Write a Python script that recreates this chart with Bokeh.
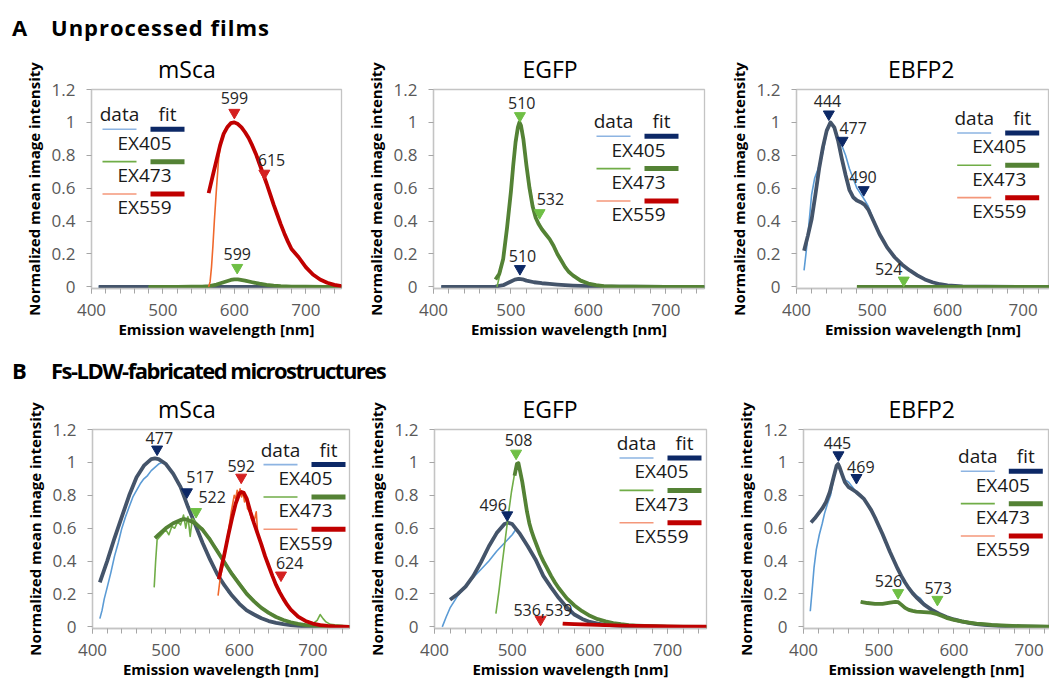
from bokeh.plotting import figure
from bokeh.models import Range1d, FixedTicker, NumeralTickFormatter, Div
from bokeh.layouts import row, column
from bokeh.embed import file_html
from bokeh.resources import INLINE
from bokeh.core.properties import value

FONT = "Open Sans"

# ---------------- ticks / labels ----------------
Y_TICKS = [0, 0.2, 0.4, 0.6, 0.8, 1.0, 1.2]
X_TICKS = [400, 500, 600, 700]
X_MINOR = [400, 420, 440, 460, 480, 500, 520, 540, 560, 580, 600, 620, 640, 660, 680, 700, 720, 740]
SERIES = ["EX405", "EX473", "EX559"]
TITLES = ["mSca", "EGFP", "EBFP2"]
HEAD_A = "Unprocessed films"
HEAD_B = "Fs-LDW-fabricated microstructures"
X_LABEL = "Emission wavelength [nm]"
Y_LABEL = "Normalized mean image intensity"

DATA_COLOR = {"EX405": "#5b9bd5", "EX473": "#70ad47", "EX559": "#f0682c"}
FIT_COLOR = {"EX405": "#44546a", "EX473": "#548235", "EX559": "#c00000"}
SWATCH_DATA = {"EX405": "#8db4e2", "EX473": "#70ad47", "EX559": "#f4977a"}
SWATCH_FIT = {"EX405": "#0c2866", "EX473": "#548235", "EX559": "#c00000"}
MARK_COLOR = {"EX405": "#0c2866", "EX473": "#6fbf45", "EX559": "#d42020"}

# ================= A1: mSca (unprocessed films) =================
a1_x405 = [410, 450, 500, 550, 600, 650, 700, 750]
a1_fit405 = [0, 0, 0, 0, 0, 0, 0, 0]
a1_dat405 = [0, 0, 0, 0, 0, 0, 0, 0]
a1_x473 = [480, 500, 520, 540, 555, 565, 575, 585, 595, 600, 605, 615, 625, 635, 645, 655, 665, 680, 700, 725, 750]
a1_fit473 = [0, 0, 0, 0.001, 0.002, 0.005, 0.014, 0.028, 0.042, 0.046, 0.045, 0.038, 0.028, 0.019, 0.012, 0.008, 0.005, 0.002, 0.001, 0, 0]
a1_dat473 = [0, 0, 0, 0.001, 0.002, 0.006, 0.015, 0.029, 0.043, 0.046, 0.044, 0.037, 0.027, 0.019, 0.012, 0.008, 0.005, 0.002, 0.001, 0, 0]
a1_xfit559 = [564, 570, 575, 580, 585, 590, 595, 600, 605, 610, 615, 620, 625, 630, 635, 640, 645, 650, 655, 660, 665, 670, 675, 680, 690, 700, 710, 720, 730, 740, 750]
a1_fit559 = [0.57, 0.68, 0.77, 0.86, 0.93, 0.97, 0.995, 1.0, 0.99, 0.97, 0.94, 0.905, 0.86, 0.81, 0.75, 0.69, 0.63, 0.565, 0.50, 0.44, 0.38, 0.325, 0.275, 0.23, 0.18, 0.12, 0.075, 0.045, 0.025, 0.012, 0.005]
a1_xdat559 = [564, 566, 568, 570, 572, 575, 578, 582, 586, 590, 595, 600, 610, 620, 630, 640, 650, 660, 670, 680, 690, 700, 710, 720, 730, 740, 750]
a1_dat559 = [0.0, 0.03, 0.12, 0.25, 0.40, 0.60, 0.78, 0.90, 0.95, 0.975, 0.99, 1.0, 0.97, 0.905, 0.81, 0.69, 0.565, 0.44, 0.325, 0.23, 0.18, 0.12, 0.075, 0.045, 0.025, 0.012, 0.005]
a1_peak_series = ["EX559", "EX559", "EX473"]
a1_peak_x = [600, 642, 604]
a1_peak_y = [1.06, 0.69, 0.117]
a1_peak_text = ["599", "615", "599"]
a1_lab_x = [600, 652, 604]
a1_lab_y = [1.148, 0.77, 0.20]

# ================= A2: EGFP (unprocessed films) =================
a2_x405 = [410, 440, 470, 480, 490, 500, 505, 510, 515, 520, 530, 540, 550, 560, 570, 580, 590, 600, 620, 650, 700, 750]
a2_fit405 = [0, 0, 0, 0.002, 0.01, 0.033, 0.044, 0.049, 0.046, 0.038, 0.028, 0.022, 0.018, 0.014, 0.011, 0.008, 0.006, 0.004, 0.002, 0.001, 0, 0]
a2_dat405 = [0, 0, 0, 0.002, 0.01, 0.033, 0.044, 0.049, 0.046, 0.038, 0.028, 0.022, 0.018, 0.014, 0.011, 0.008, 0.006, 0.004, 0.002, 0.001, 0, 0]
a2_xfit473 = [480, 485, 490, 495, 500, 503, 506, 509, 511, 513, 516, 520, 524, 528, 532, 536, 540, 545, 550, 555, 560, 565, 570, 575, 580, 590, 600, 610, 620, 640, 660, 700, 750]
a2_fit473 = [0.045, 0.08, 0.17, 0.36, 0.58, 0.74, 0.88, 0.97, 1.0, 0.98, 0.9, 0.74, 0.6, 0.49, 0.42, 0.38, 0.35, 0.32, 0.29, 0.25, 0.2, 0.16, 0.12, 0.09, 0.07, 0.038, 0.02, 0.01, 0.005, 0.002, 0.001, 0, 0]
a2_xdat473 = [482, 486, 490, 495, 500, 505, 510, 515, 520, 530, 540, 550, 560, 570, 580, 600, 620, 650, 700, 750]
a2_dat473 = [0.0, 0.08, 0.17, 0.36, 0.58, 0.82, 0.99, 0.95, 0.74, 0.45, 0.35, 0.29, 0.2, 0.12, 0.07, 0.02, 0.005, 0.001, 0, 0]
a2_peak_series = ["EX473", "EX473", "EX405"]
a2_peak_x = [511.6, 537, 511.6]
a2_peak_y = [1.04, 0.45, 0.11]
a2_peak_text = ["510", "532", "510"]
a2_lab_x = [514, 551, 515]
a2_lab_y = [1.12, 0.537, 0.187]

# ================= A3: EBFP2 (unprocessed films) =================
a3_xfit405 = [410, 415, 420, 425, 430, 435, 440, 445, 450, 455, 460, 465, 470, 475, 480, 485, 490, 495, 500, 505, 510, 515, 520, 530, 540, 550, 560, 570, 580, 590, 600, 620, 650, 700, 735]
a3_fit405 = [0.22, 0.31, 0.41, 0.56, 0.72, 0.85, 0.95, 1.0, 0.97, 0.89, 0.78, 0.68, 0.59, 0.545, 0.525, 0.515, 0.5, 0.47, 0.42, 0.37, 0.32, 0.28, 0.24, 0.18, 0.135, 0.1, 0.07, 0.045, 0.028, 0.016, 0.009, 0.003, 0.001, 0, 0]
a3_xdat405 = [410, 413, 416, 420, 424, 428, 432, 436, 440, 445, 450, 455, 460, 465, 470, 475, 480, 485, 490, 495, 500, 510, 520, 530, 540, 550, 560, 570, 580, 600, 650, 735]
a3_dat405 = [0.1, 0.22, 0.36, 0.56, 0.66, 0.71, 0.76, 0.84, 0.94, 1.0, 0.97, 0.9, 0.86, 0.8, 0.72, 0.66, 0.6, 0.565, 0.53, 0.49, 0.43, 0.32, 0.24, 0.18, 0.135, 0.1, 0.07, 0.045, 0.028, 0.009, 0.001, 0]
a3_x473 = [480, 550, 600, 650, 700, 735]
a3_fit473 = [0, 0, 0, 0, 0, 0]
a3_dat473 = [0, 0, 0, 0, 0, 0]
a3_peak_series = ["EX405", "EX405", "EX405", "EX473"]
a3_peak_x = [442.8, 461, 489, 542]
a3_peak_y = [1.05, 0.89, 0.59, 0.04]
a3_peak_text = ["444", "477", "490", "524"]
a3_lab_x = [441, 475, 488, 522]
a3_lab_y = [1.128, 0.966, 0.67, 0.109]

# ================= B1: mSca (microstructures) =================
b1_xfit405 = [410, 420, 430, 440, 450, 460, 470, 480, 485, 490, 500, 510, 520, 530, 540, 550, 560, 570, 580, 590, 600, 610, 620, 630, 640, 650, 660, 670, 680, 690, 700, 720, 750]
b1_fit405 = [0.27, 0.40, 0.54, 0.67, 0.80, 0.91, 0.98, 1.02, 1.025, 1.02, 0.99, 0.93, 0.85, 0.73, 0.62, 0.51, 0.41, 0.32, 0.25, 0.19, 0.14, 0.10, 0.075, 0.052, 0.035, 0.024, 0.016, 0.01, 0.006, 0.003, 0.002, 0, 0]
b1_xdat405 = [410, 413, 416, 420, 425, 430, 435, 440, 445, 450, 455, 460, 465, 470, 475, 480, 485, 490, 495, 500, 505, 510, 515, 520, 525, 530, 535, 540, 545, 550, 555, 560, 565, 570, 575, 580, 585, 590, 600, 610, 620, 630, 640, 650, 660, 670, 680, 700, 720]
b1_dat405 = [0.05, 0.10, 0.17, 0.24, 0.33, 0.43, 0.51, 0.60, 0.67, 0.73, 0.79, 0.83, 0.87, 0.90, 0.92, 0.95, 0.97, 0.99, 1.0, 0.99, 0.96, 0.935, 0.89, 0.86, 0.79, 0.74, 0.67, 0.63, 0.56, 0.52, 0.46, 0.42, 0.36, 0.33, 0.28, 0.26, 0.21, 0.19, 0.14, 0.105, 0.07, 0.055, 0.033, 0.025, 0.014, 0.011, 0.005, 0.002, 0]
b1_xfit473 = [485, 490, 500, 510, 520, 525, 530, 540, 550, 560, 570, 580, 590, 600, 610, 620, 630, 640, 650, 660, 670, 680, 690, 700, 720, 750]
b1_fit473 = [0.54, 0.56, 0.60, 0.63, 0.65, 0.655, 0.65, 0.63, 0.59, 0.53, 0.46, 0.39, 0.32, 0.26, 0.20, 0.155, 0.115, 0.085, 0.06, 0.042, 0.028, 0.018, 0.011, 0.007, 0.003, 0]
b1_xdat473 = [484, 486, 488, 492, 496, 500, 504, 508, 512, 516, 520, 524, 527, 530, 533, 536, 540, 545, 550, 555, 560, 565, 570, 575, 580, 585, 590, 595, 600, 610, 620, 630, 640, 650, 660, 670, 680, 690, 700, 706, 710, 714, 718, 724, 730, 740, 750]
b1_dat473 = [0.24, 0.40, 0.53, 0.55, 0.57, 0.59, 0.56, 0.61, 0.60, 0.64, 0.62, 0.68, 0.60, 0.67, 0.55, 0.66, 0.64, 0.61, 0.60, 0.56, 0.54, 0.50, 0.47, 0.43, 0.40, 0.36, 0.33, 0.30, 0.27, 0.21, 0.16, 0.12, 0.09, 0.065, 0.045, 0.03, 0.02, 0.015, 0.02, 0.04, 0.075, 0.05, 0.03, 0.015, 0.012, 0.008, 0]
b1_xfit559 = [572, 576, 580, 585, 590, 595, 600, 603, 606, 610, 615, 620, 625, 630, 635, 640, 645, 650, 655, 660, 665, 670, 680, 690, 700, 710, 720, 730, 750]
b1_fit559 = [0.29, 0.37, 0.45, 0.56, 0.66, 0.75, 0.81, 0.82, 0.815, 0.78, 0.70, 0.63, 0.565, 0.50, 0.43, 0.37, 0.31, 0.255, 0.21, 0.17, 0.135, 0.105, 0.062, 0.036, 0.02, 0.011, 0.006, 0.003, 0]
b1_xdat559 = [571, 574, 577, 580, 583, 586, 589, 591, 593, 595, 597, 599, 601, 603, 605, 607, 609, 611, 614, 617, 620, 623, 625, 628, 631, 634, 637, 640, 643, 646, 649, 652, 655, 658, 661, 664, 667, 670, 675, 680, 690, 700, 710, 720, 730, 740, 750]
b1_dat559 = [0.19, 0.30, 0.36, 0.43, 0.52, 0.61, 0.70, 0.75, 0.80, 0.78, 0.83, 0.80, 0.84, 0.79, 0.82, 0.76, 0.79, 0.72, 0.70, 0.65, 0.64, 0.70, 0.57, 0.52, 0.49, 0.44, 0.41, 0.37, 0.33, 0.30, 0.26, 0.24, 0.22, 0.18, 0.16, 0.14, 0.12, 0.10, 0.085, 0.06, 0.04, 0.02, 0.015, 0.008, 0.005, 0.005, 0]
b1_peak_series = ["EX405", "EX405", "EX473", "EX559", "EX559"]
b1_peak_x = [488, 528.6, 541, 602.5, 656.7]
b1_peak_y = [1.08, 0.82, 0.70, 0.909, 0.314]
b1_peak_text = ["477", "517", "522", "592", "624"]
b1_lab_x = [491, 546.5, 563, 602.5, 668.5]
b1_lab_y = [1.146, 0.91, 0.787, 0.98, 0.39]

# ================= B2: EGFP (microstructures) =================
b2_xfit405 = [420, 430, 440, 450, 460, 470, 480, 490, 495, 500, 510, 520, 530, 540, 550, 560, 570, 580, 590, 600, 610, 620, 640, 660, 680, 700, 750]
b2_fit405 = [0.165, 0.20, 0.245, 0.31, 0.395, 0.49, 0.57, 0.625, 0.633, 0.625, 0.565, 0.49, 0.41, 0.31, 0.24, 0.175, 0.12, 0.075, 0.048, 0.03, 0.02, 0.012, 0.006, 0.002, 0.001, 0, 0]
b2_xdat405 = [410, 415, 420, 430, 440, 450, 460, 470, 480, 490, 500, 505, 510, 520, 530, 540, 550, 560, 570, 580, 600, 620, 650, 700]
b2_dat405 = [0.0, 0.06, 0.115, 0.19, 0.245, 0.30, 0.35, 0.40, 0.46, 0.51, 0.56, 0.595, 0.565, 0.49, 0.41, 0.31, 0.24, 0.175, 0.12, 0.075, 0.03, 0.012, 0.004, 0]
b2_xfit473 = [503, 506, 508, 510, 513, 516, 519, 522, 525, 528, 532, 536, 540, 545, 550, 555, 560, 565, 570, 580, 590, 600, 610, 620, 630, 640, 650, 660, 680, 700, 750]
b2_fit473 = [0.92, 0.99, 0.995, 0.95, 0.88, 0.79, 0.70, 0.63, 0.58, 0.54, 0.49, 0.44, 0.40, 0.355, 0.31, 0.27, 0.235, 0.205, 0.175, 0.13, 0.095, 0.067, 0.047, 0.033, 0.023, 0.016, 0.011, 0.008, 0.004, 0.002, 0]
b2_xdat473 = [479, 483, 487, 491, 495, 499, 503, 506, 508, 510, 513, 516, 520, 525, 530, 540, 550, 560, 570, 580, 600, 620, 650, 700, 750]
b2_dat473 = [0.08, 0.22, 0.38, 0.53, 0.68, 0.82, 0.93, 0.99, 1.0, 0.96, 0.88, 0.79, 0.68, 0.58, 0.51, 0.40, 0.31, 0.235, 0.175, 0.13, 0.067, 0.033, 0.011, 0.002, 0]
b2_x559 = [565, 580, 600, 620, 640, 660, 680, 700, 720, 750]
b2_fit559 = [0.02, 0.017, 0.013, 0.01, 0.008, 0.006, 0.004, 0.003, 0.002, 0.001]
b2_dat559 = [0.015, 0.016, 0.012, 0.01, 0.008, 0.006, 0.004, 0.003, 0.002, 0.001]
b2_peak_series = ["EX473", "EX405", "EX559"]
b2_peak_x = [505, 493.6, 536.5]
b2_peak_y = [1.055, 0.68, 0.045]
b2_peak_text = ["508", "496", "536,539"]
b2_lab_x = [508.2, 475.5, 539.5]
b2_lab_y = [1.136, 0.74, 0.105]

# ================= B3: EBFP2 (microstructures) =================
b3_xfit405 = [410, 415, 420, 425, 430, 435, 440, 444, 446, 448, 451, 455, 460, 465, 470, 475, 480, 485, 490, 495, 500, 505, 510, 515, 520, 525, 530, 535, 540, 545, 550, 560, 570, 580, 590, 600, 610, 620, 630, 640, 650, 660, 680, 700, 727]
b3_fit405 = [0.635, 0.66, 0.69, 0.72, 0.76, 0.82, 0.91, 0.98, 0.99, 0.97, 0.93, 0.88, 0.85, 0.835, 0.82, 0.80, 0.78, 0.745, 0.71, 0.665, 0.615, 0.565, 0.51, 0.455, 0.405, 0.355, 0.31, 0.27, 0.235, 0.205, 0.18, 0.137, 0.105, 0.08, 0.06, 0.045, 0.033, 0.024, 0.017, 0.012, 0.009, 0.006, 0.003, 0.001, 0]
b3_xdat405 = [409, 412, 414, 417, 421, 425, 428, 432, 436, 440, 444, 446, 448, 451, 455, 460, 465, 470, 480, 490, 500, 510, 520, 530, 540, 550, 555, 560, 565, 570, 580, 600, 620, 650, 700, 727]
b3_dat405 = [0.095, 0.25, 0.36, 0.47, 0.56, 0.63, 0.69, 0.75, 0.80, 0.90, 0.98, 0.995, 0.97, 0.93, 0.895, 0.88, 0.85, 0.82, 0.78, 0.71, 0.615, 0.51, 0.405, 0.31, 0.235, 0.19, 0.175, 0.145, 0.125, 0.11, 0.08, 0.045, 0.024, 0.009, 0.001, 0]
b3_x473 = [476, 485, 495, 505, 515, 522, 526, 530, 535, 540, 545, 550, 560, 570, 578, 585, 590, 600, 610, 620, 630, 640, 650, 670, 690, 727]
b3_fit473 = [0.152, 0.145, 0.14, 0.14, 0.148, 0.152, 0.15, 0.135, 0.115, 0.103, 0.097, 0.093, 0.09, 0.086, 0.077, 0.065, 0.055, 0.042, 0.033, 0.026, 0.02, 0.016, 0.012, 0.007, 0.004, 0.001]
b3_dat473 = [0.15, 0.144, 0.14, 0.141, 0.149, 0.153, 0.149, 0.133, 0.114, 0.102, 0.097, 0.094, 0.091, 0.087, 0.076, 0.064, 0.055, 0.042, 0.033, 0.026, 0.02, 0.016, 0.012, 0.007, 0.004, 0.001]
b3_peak_series = ["EX405", "EX405", "EX473", "EX473"]
b3_peak_x = [446.5, 470.4, 525.8, 578]
b3_peak_y = [1.045, 0.907, 0.207, 0.166]
b3_peak_text = ["445", "469", "526", "573"]
b3_lab_x = [445.2, 476.2, 513, 579]
b3_lab_y = [1.12, 0.97, 0.276, 0.235]


def style_axes(p):
    xa = p.xaxis[0]
    ya = p.yaxis[0]
    xa.ticker = FixedTicker(ticks=X_TICKS, minor_ticks=X_MINOR)
    ya.ticker = FixedTicker(ticks=Y_TICKS, minor_ticks=[])
    ya.formatter = NumeralTickFormatter(format="0.[0]")
    xa.axis_label = X_LABEL
    ya.axis_label = Y_LABEL
    for ax in (xa, ya):
        ax.axis_line_color = "#c4c4c4"
        ax.axis_line_width = 1.3
        ax.major_tick_line_color = "#a6a6a6"
        ax.minor_tick_line_color = "#a6a6a6"
        ax.major_tick_in = 0
        ax.major_tick_out = 5
        ax.minor_tick_in = 0
        ax.major_label_text_font = FONT
        ax.major_label_text_font_size = "17px"
        ax.major_label_text_color = "#595959"
        ax.axis_label_text_font = FONT
        ax.axis_label_text_font_style = "bold"
        ax.axis_label_text_font_size = "15px"
        ax.axis_label_text_color = "#000000"
    xa.minor_tick_out = 5
    ya.minor_tick_out = 0
    xa.major_label_standoff = 10
    xa.axis_label_standoff = 0
    ya.major_label_standoff = 11
    ya.axis_label_standoff = 5


def make_panel(title, title_off, xend, geom, curves, peaks, leg):
    w, h, bl, br, bt, bb = geom
    fw = w - bl - br
    fh = h - bt - bb
    y0 = -0.01
    ppx = fw / (xend - 400.0)
    ppy = fh / (1.2 - y0)

    def X(px):
        return 400 + px / ppx

    def Y(py):
        return 1.2 - py / ppy

    p = figure(width=w, height=h, x_range=Range1d(400, xend), y_range=Range1d(y0, 1.2),
               output_backend="svg", toolbar_location=None,
               min_border_left=bl, min_border_right=br, min_border_top=bt, min_border_bottom=bb,
               background_fill_color="white", border_fill_color="white")
    p.title.text = title
    p.title.align = "left"
    p.title.offset = title_off
    p.title.text_font = FONT
    p.title.text_font_size = "23px"
    p.title.text_font_style = "normal"
    p.title.text_color = "#000000"
    p.grid.visible = False
    p.outline_line_color = "#c4c4c4"
    p.outline_line_width = 1.3
    style_axes(p)

    # curves: data (thin) then fit (thick) per excitation
    for key, dx, dy, fx, fy in curves:
        if dx is not None:
            p.line(dx, dy, line_color=DATA_COLOR[key], line_width=1.6, line_join="round")
        if fx is not None:
            p.line(fx, fy, line_color=FIT_COLOR[key], line_width=3.8, line_join="round")

    # peak markers + labels
    ser, mx, my, txt, lx, ly = peaks
    p.scatter(mx, my, marker="inverted_triangle", size=11,
              fill_color=[MARK_COLOR[s] for s in ser], line_color=[MARK_COLOR[s] for s in ser])
    p.text(lx, ly, text=txt, text_align="center", text_baseline="middle",
           text_font=value(FONT), text_font_size=value("16px"), text_color="#262626")

    # legend (layout in pixels relative to the frame)
    lx0, ly0 = leg
    p.text([X(lx0 + 17), X(lx0 + 65)], [Y(ly0), Y(ly0)], text=["data", "fit"],
           text_align="center", text_baseline="middle",
           text_font=value(FONT), text_font_size=value("19px"), text_color="#1a1a1a")
    for i, key in enumerate(SERIES):
        yy = ly0 + 15 + 32.5 * i
        p.segment(x0=[X(lx0)], y0=[Y(yy)], x1=[X(lx0 + 34)], y1=[Y(yy)],
                  line_color=SWATCH_DATA[key], line_width=1.6)
        p.segment(x0=[X(lx0 + 48)], y0=[Y(yy)], x1=[X(lx0 + 82)], y1=[Y(yy)],
                  line_color=SWATCH_FIT[key], line_width=5)
        p.text([X(lx0 + 42)], [Y(yy + 13.5)], text=[key], text_align="center", text_baseline="middle",
               text_font=value(FONT), text_font_size=value("19px"), text_color="#1a1a1a")
    return p


# geometry: (width, height, border_left, border_right, border_top, border_bottom)
pA1 = make_panel(TITLES[0], 66.5, 750, (355, 299, 91, 14, 43, 56),
                 [("EX405", a1_x405, a1_dat405, a1_x405, a1_fit405),
                  ("EX473", a1_x473, a1_dat473, a1_x473, a1_fit473),
                  ("EX559", a1_xdat559, a1_dat559, a1_xfit559, a1_fit559)],
                 (a1_peak_series, a1_peak_x, a1_peak_y, a1_peak_text, a1_lab_x, a1_lab_y),
                 (11, 25))
pA2 = make_panel(TITLES[1], 89, 750, (355, 299, 78, 6, 43, 56),
                 [("EX405", a2_x405, a2_dat405, a2_x405, a2_fit405),
                  ("EX473", a2_xdat473, a2_dat473, a2_xfit473, a2_fit473)],
                 (a2_peak_series, a2_peak_x, a2_peak_y, a2_peak_text, a2_lab_x, a2_lab_y),
                 (163, 32))
pA3 = make_panel(TITLES[2], 91.5, 735, (339, 299, 86, 0, 43, 56),
                 [("EX405", a3_xdat405, a3_dat405, a3_xfit405, a3_fit405),
                  ("EX473", a3_x473, a3_dat473, a3_x473, a3_fit473)],
                 (a3_peak_series, a3_peak_x, a3_peak_y, a3_peak_text, a3_lab_x, a3_lab_y),
                 (160.7, 28.7))
pB1 = make_panel(TITLES[0], 65.5, 750, (355, 299, 92, 6, 43, 56),
                 [("EX405", b1_xdat405, b1_dat405, b1_xfit405, b1_fit405),
                  ("EX473", b1_xdat473, b1_dat473, b1_xfit473, b1_fit473),
                  ("EX559", b1_xdat559, b1_dat559, b1_xfit559, b1_fit559)],
                 (b1_peak_series, b1_peak_x, b1_peak_y, b1_peak_text, b1_lab_x, b1_lab_y),
                 (171, 20.3))
pB2 = make_panel(TITLES[1], 88, 750, (355, 299, 79, 4, 43, 56),
                 [("EX405", b2_xdat405, b2_dat405, b2_xfit405, b2_fit405),
                  ("EX473", b2_xdat473, b2_dat473, b2_xfit473, b2_fit473),
                  ("EX559", b2_x559, b2_dat559, b2_x559, b2_fit559)],
                 (b2_peak_series, b2_peak_x, b2_peak_y, b2_peak_text, b2_lab_x, b2_lab_y),
                 (185, 13.7))
pB3 = make_panel(TITLES[2], 85, 727, (339, 299, 93, 0, 43, 56),
                 [("EX405", b3_xdat405, b3_dat405, b3_xfit405, b3_fit405),
                  ("EX473", b3_x473, b3_dat473, b3_x473, b3_fit473)],
                 (b3_peak_series, b3_peak_x, b3_peak_y, b3_peak_text, b3_lab_x, b3_lab_y),
                 (157.3, 27))


def header(letter, text, head_top, spacing, height):
    span = ('<span style="position:absolute;left:%spx;top:%spx;line-height:30px;font-weight:bold;'
            'font-size:22px;letter-spacing:%spx;white-space:nowrap;">%s</span>')
    html = ('<div style="position:relative;width:1049px;height:%dpx;font-family:\'Open Sans\';color:#000;">'
            % height)
    html += span % (12, head_top, 0, letter)
    html += span % (51, head_top, spacing, text)
    html += '</div>'
    return html


divA = Div(text=header("A", HEAD_A, 12, 1, 45), width=1049, height=45, margin=(0, 0, 0, 0))
divB = Div(text=header("B", HEAD_B, 11, -1.5, 41), width=1049, height=41, margin=(0, 0, 0, 0))

layout = column(divA, row(pA1, pA2, pA3, spacing=0), divB, row(pB1, pB2, pB3, spacing=0), spacing=0)

open("out.html", "w").write(file_html(layout, INLINE, title="Emission spectra"))
